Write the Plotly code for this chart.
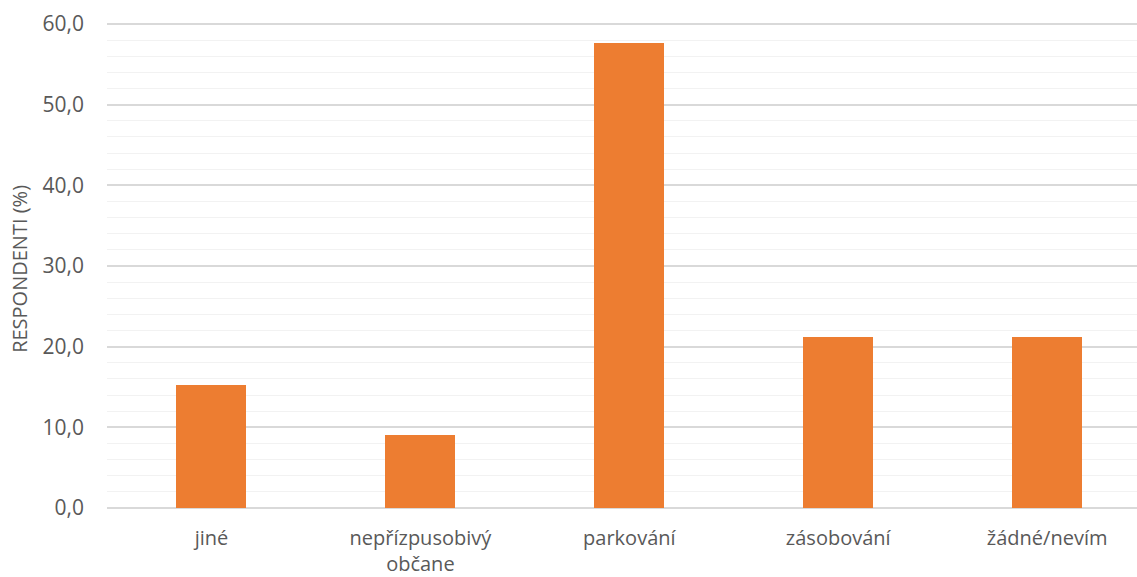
import plotly.graph_objects as go

# Survey answers and their share of respondents (%)
categories = ["jiné", "nepřízpusobivý<br>občane", "parkování", "zásobování", "žádné/nevím"]
shares = [15.2, 9.1, 57.6, 21.2, 21.2]

BAR_COLOR = "#ED7D31"
TEXT_COLOR = "#595959"
FONT = "Open Sans"

fig = go.Figure(
    go.Bar(
        x=list(range(len(categories))),
        y=shares,
        marker=dict(color=BAR_COLOR, line=dict(width=0)),
        width=0.335,
        hoverinfo="x+y",
    )
)

fig.update_layout(
    width=1137,
    height=577,
    margin=dict(l=107, r=0, t=20, b=69, autoexpand=False),
    plot_bgcolor="white",
    paper_bgcolor="white",
    separators=",.",
    showlegend=False,
    font=dict(family=FONT, color=TEXT_COLOR),
    bargap=0,
)

fig.update_xaxes(
    range=[-0.5, 4.43],
    tickmode="array",
    tickvals=list(range(len(categories))),
    ticktext=categories,
    tickfont=dict(size=20, color=TEXT_COLOR, family=FONT),
    showgrid=False,
    showline=False,
    zeroline=False,
    ticks="",
    ticklabelstandoff=16,
    automargin=False,
    fixedrange=True,
)

fig.update_yaxes(
    range=[0, 60.5],
    tickvals=[0, 10, 20, 30, 40, 50, 60],
    tickformat=".1f",
    tickfont=dict(size=21, color=TEXT_COLOR, family=FONT),
    showgrid=True,
    gridcolor="#d9d9d9",
    gridwidth=1.5,
    zeroline=True,
    zerolinecolor="#d9d9d9",
    zerolinewidth=1.5,
    showline=False,
    ticks="",
    ticklabelstandoff=22,
    automargin=False,
    minor=dict(tickvals=[v for v in range(0, 61, 2) if v % 10], showgrid=True,
               gridcolor="#f2f2f2", gridwidth=1),
    fixedrange=True,
)

fig.add_annotation(
    text="RESPONDENTI (%)",
    textangle=-90,
    xref="paper",
    yref="paper",
    x=-0.0845,
    y=0.49,
    xanchor="center",
    yanchor="middle",
    showarrow=False,
    font=dict(size=20, color=TEXT_COLOR, family=FONT),
)

fig.write_html("out.html")
